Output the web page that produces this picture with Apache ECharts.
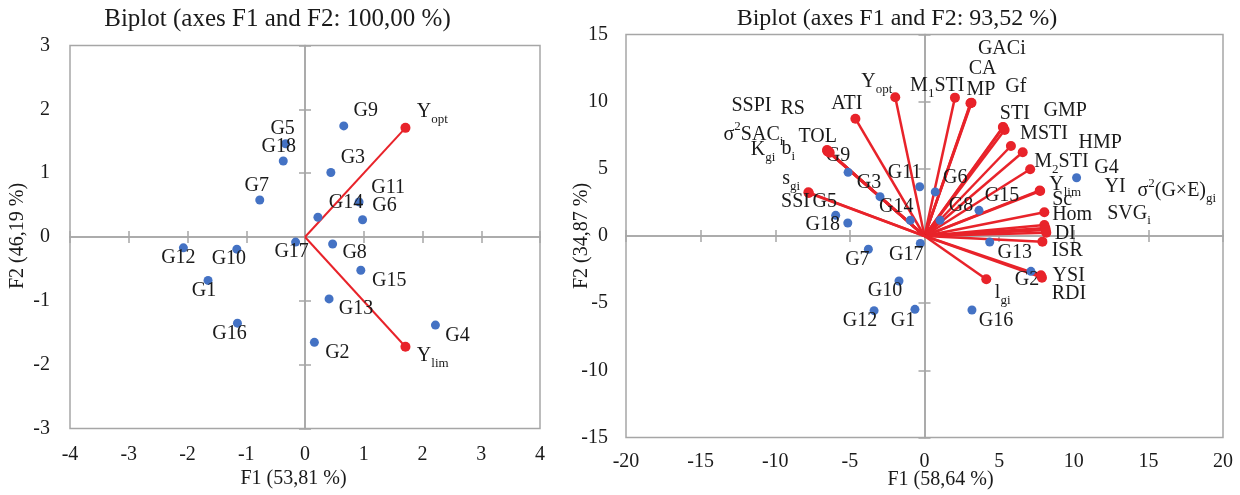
<!DOCTYPE html>
<html>
<head>
<meta charset="utf-8">
<script src="https://cdn.jsdelivr.net/npm/echarts@6/dist/echarts.min.js"></script>
<style>html,body{margin:0;padding:0;background:#fff}#c{width:1240px;height:495px}</style>
</head>
<body>
<div id="c"></div>
<script>
// ---------------- DATA ----------------
// Left biplot (axes F1 and F2: 100,00 %)
const leftTitle = 'Biplot (axes F1 and F2: 100,00 %)';
const leftXName = 'F1 (53,81 %)';
const leftYName = 'F2 (46,19 %)';
const leftXRange = [-4, 4, 1];
const leftYRange = [-3, 3, 1];
const leftGenotypes = ['G1','G2','G3','G4','G5','G6','G7','G8','G9','G10','G11','G12','G13','G14','G15','G16','G17','G18'];
const leftGenoF1 = [-1.65, 0.16, 0.44, 2.22, -0.33, 0.98, -0.77, 0.47, 0.66, -1.16, 0.92, -2.07, 0.41, 0.22, 0.95, -1.15, -0.16, -0.37];
const leftGenoF2 = [-0.68, -1.65, 1.01, -1.38, 1.46, 0.27, 0.58, -0.11, 1.74, -0.19, 0.55, -0.17, -0.97, 0.31, -0.52, -1.35, -0.08, 1.19];
const leftVariables = ['Y_{opt}', 'Y_{lim}'];
const leftVarF1 = [1.71, 1.71];
const leftVarF2 = [1.71, -1.72];

// Right biplot (axes F1 and F2: 93,52 %)
const rightTitle = 'Biplot (axes F1 and F2: 93,52 %)';
const rightXName = 'F1 (58,64 %)';
const rightYName = 'F2 (34,87 %)';
const rightXRange = [-20, 20, 5];
const rightYRange = [-15, 15, 5];
const rightGenotypes = ['G1','G2','G3','G4','G5','G6','G7','G8','G9','G10','G11','G12','G13','G14','G15','G16','G17','G18'];
const rightGenoF1 = [-0.64, 7.13, -2.98, 10.19, -5.95, 0.72, -3.76, 1.04, -5.12, -1.71, -0.32, -3.38, 4.37, -0.95, 3.65, 3.18, -0.28, -5.14];
const rightGenoF2 = [-5.46, -2.63, 2.93, 4.34, 1.54, 3.28, -0.99, 1.17, 4.74, -3.35, 3.67, -5.56, -0.45, 1.17, 1.91, -5.51, -0.55, 0.97];
const rightVariables = ['GACi','CA','M_{1}STI','MP','Gf','STI','GMP','MSTI','HMP','M_{2}STI','Y_{lim}','Sc','Hom','YI','SVG_{i}','σ^{2}(G×E)_{gi}','DI','ISR','YSI','RDI','l_{gi}','Y_{opt}','ATI','SSPI','RS','σ^{2}SAC_{i}','TOL','K_{gi}','b_{i}','s_{gi}','SSI'];
const rightVarF1 = [3.15, 3.08, 2.04, 3.11, 5.25, 5.28, 5.37, 5.79, 6.58, 7.08, 7.72, 7.75, 8.03, 8.03, 8.10, 8.12, 8.16, 7.90, 7.80, 7.87, 4.14, -1.96, -4.63, -6.50, -6.45, -6.50, -6.53, -6.40, -6.35, -7.78, -7.75];
const rightVarF2 = [9.92, 9.88, 10.30, 9.90, 8.12, 8.09, 7.89, 6.70, 6.23, 4.97, 3.39, 3.35, 1.77, 0.82, 0.60, 0.45, 0.25, -0.42, -2.93, -3.10, -3.22, 10.33, 8.73, 6.35, 6.30, 6.30, 6.40, 6.25, 6.20, 3.25, 3.20];

// ---------------- LABEL PLACEMENT (style, px offsets) ----------------
const leftGenoLabelOffset = [[-4,10],[23,10],[22,-15],[22,10.5],[-3,-15],[22,-14.5],[-3,-14.5],[22,9],[22,-15],[-8,10],[29,-14],[-5,9.5],[27,10],[28,-14.5],[28.5,10.5],[-8,10.7],[-4,10],[-4.5,-14]];
const leftVarLabelOffset = [[26.8,-15.6],[27.3,9]];
const rightGenoLabelOffset = [[-12,11],[-4,8],[-11,-14],[30,-10],[-11,-14],[20,-14.5],[-11,10],[21,-14.6],[-10,-17],[-14,10],[-15,-14],[-14,10],[25,10.5],[-14,-14],[23,-15],[24,11],[-14,11],[-25,2]];
const rightVarLabelOffset = [[30.3,-53.6],[12.2,-34.1],[-17.7,-12],[10,-13],[13,-40],[11.5,-14],[60.5,-18.8],[33.1,-11.8],[77.5,-9.8],[31.3,-7.6],[25.4,-5.5],[22,8.7],[27.8,2.8],[70.8,-38.7],[83.6,-14.6],[131.1,-39],[18.9,0.7],[24.8,9.1],[27.8,0.2],[27,16.6],[16.4,13.8],[-18.4,-15.6],[-8.6,-14.6],[-76,-44.5],[-35.5,-43.1],[-74,-16.9],[-9.3,-12.8],[-66,-2.1],[-41.5,-3.7],[-17.3,-13.1],[-13.3,8.7]];

// ---------------- STYLE ----------------
const FONT = '"Liberation Serif", "Times New Roman", serif';
const TXT = '#1a1a1a';
const GRAY = '#a6a6a6';
const BLUE = '#4472c4';
const RED = '#e8232a';
const RICH = {
  b: {fontSize: 20, lineHeight: 28, fontFamily: FONT, color: TXT, verticalAlign: 'middle'},
  s: {fontSize: 13, lineHeight: 13, fontFamily: FONT, color: TXT, verticalAlign: 'bottom'},
  p: {fontSize: 13, lineHeight: 18, fontFamily: FONT, color: TXT, verticalAlign: 'top'}
};
function toRich(t) {
  return t.split(/(_\{[^}]*\}|\^\{[^}]*\})/).filter(Boolean).map(function (p) {
    if (p[0] === '_' && p[1] === '{') return '{s|' + p.slice(2, -1) + '}';
    if (p[0] === '^' && p[1] === '{') return '{p|' + p.slice(2, -1) + '}';
    return '{b|' + p + '}';
  }).join('');
}

const grids = [
  {left: 70, top: 45.5, width: 470, height: 383, show: true, borderColor: GRAY, borderWidth: 1.5, backgroundColor: 'transparent'},
  {left: 626, top: 34.5, width: 597, height: 403, show: true, borderColor: GRAY, borderWidth: 1.5, backgroundColor: 'transparent'}
];

function labelAxis(dim, gridIndex, range, margin) {
  return {
    type: 'value', gridIndex: gridIndex, min: range[0], max: range[1], interval: range[2],
    position: dim === 'x' ? 'bottom' : 'left',
    axisLine: {show: false, onZero: false}, axisTick: {show: false}, splitLine: {show: false},
    axisLabel: {show: true, fontSize: 20, fontFamily: FONT, color: TXT, margin: margin}
  };
}
function zeroAxis(dim, gridIndex, range, otherIdx, inside) {
  return {
    type: 'value', gridIndex: gridIndex, min: range[0], max: range[1], interval: range[2],
    position: dim === 'x' ? 'bottom' : 'left',
    axisLine: {show: true, onZero: true, onZeroAxisIndex: otherIdx, lineStyle: {color: GRAY, width: 1.5}},
    axisTick: {show: true, inside: inside, length: 6, lineStyle: {color: GRAY, width: 1.5}},
    axisLabel: {show: false}, splitLine: {show: false}
  };
}

const xAxes = [
  labelAxis('x', 0, leftXRange, 16), zeroAxis('x', 0, leftXRange, 0, false), zeroAxis('x', 0, leftXRange, 0, true),
  labelAxis('x', 1, rightXRange, 14), zeroAxis('x', 1, rightXRange, 3, false), zeroAxis('x', 1, rightXRange, 3, true)
];
const yAxes = [
  labelAxis('y', 0, leftYRange, 20), zeroAxis('y', 0, leftYRange, 0, false), zeroAxis('y', 0, leftYRange, 0, true),
  labelAxis('y', 1, rightYRange, 18), zeroAxis('y', 1, rightYRange, 3, false), zeroAxis('y', 1, rightYRange, 3, true)
];

function pointSeries(names, xs, ys, offsets, axisIdx, color, size, z) {
  return {
    type: 'scatter', xAxisIndex: axisIdx, yAxisIndex: axisIdx, z: z,
    symbol: 'circle', symbolSize: size, itemStyle: {color: color, opacity: 1},
    label: {show: true, position: 'inside', formatter: function (p) { return toRich(p.name); }, rich: RICH},
    emphasis: {disabled: true}, silent: true,
    data: names.map(function (n, i) {
      return {name: n, value: [xs[i], ys[i]], label: {offset: offsets[i]}};
    })
  };
}
function vectorSeries(xs, ys, axisIdx, width) {
  return {
    type: 'lines', coordinateSystem: 'cartesian2d', xAxisIndex: axisIdx, yAxisIndex: axisIdx, z: 2,
    symbol: 'none', silent: true,
    lineStyle: {color: RED, width: width, opacity: 1, curveness: 0},
    data: xs.map(function (x, i) { return {coords: [[0, 0], [x, ys[i]]]}; })
  };
}

function txt(x, y, text, size, rot) {
  return {
    type: 'text', x: x, y: y, rotation: rot || 0, silent: true,
    style: {text: text, fontSize: size, fontFamily: FONT, fill: TXT,
            align: 'center', verticalAlign: 'middle', textAlign: 'center', textVerticalAlign: 'middle'}
  };
}

const option = {
  animation: false,
  backgroundColor: '#ffffff',
  grid: grids,
  xAxis: xAxes,
  yAxis: yAxes,
  graphic: [
    txt(277.5, 19, leftTitle, 25),
    txt(897, 19, rightTitle, 24),
    txt(293.5, 479, leftXName, 20),
    txt(940.5, 480, rightXName, 20),
    txt(18, 236, leftYName, 20, Math.PI / 2),
    txt(582, 236, rightYName, 20, Math.PI / 2)
  ],
  series: [
    vectorSeries(leftVarF1, leftVarF2, 0, 2),
    pointSeries(leftGenotypes, leftGenoF1, leftGenoF2, leftGenoLabelOffset, 0, BLUE, 9, 3),
    pointSeries(leftVariables, leftVarF1, leftVarF2, leftVarLabelOffset, 0, RED, 10, 4),
    vectorSeries(rightVarF1, rightVarF2, 3, 2.5),
    pointSeries(rightGenotypes, rightGenoF1, rightGenoF2, rightGenoLabelOffset, 3, BLUE, 9, 3),
    pointSeries(rightVariables, rightVarF1, rightVarF2, rightVarLabelOffset, 3, RED, 10, 4)
  ]
};

const chart = echarts.init(document.getElementById('c'), null, {renderer: 'canvas'});
chart.setOption(option);
</script>
</body>
</html>
